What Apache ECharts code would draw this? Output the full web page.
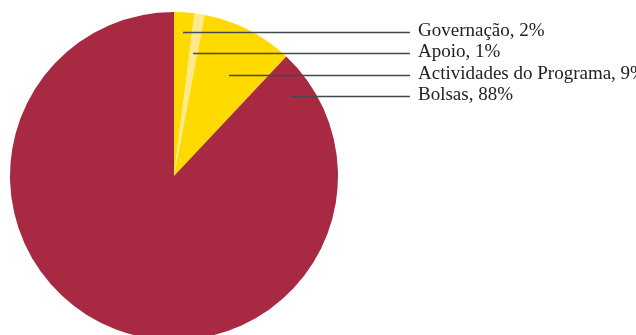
<!DOCTYPE html>
<html><head><meta charset="utf-8">
<script src="https://cdn.jsdelivr.net/npm/echarts@6/dist/echarts.min.js"></script>
<style>html,body{margin:0;padding:0;background:#fff}#c{width:636px;height:335px}</style>
</head><body><div id="c"></div>
<script>
var categories = ['Governação', 'Apoio', 'Actividades do Programa', 'Bolsas'];
var values = [2, 1, 9, 88];
var colors = ['#FFDA00', '#FFE98C', '#FFDA00', '#A82A42'];
// layout only
var lineStartX = [183, 193, 229, 291];
var lineY = [32, 53, 75, 96];

var base = {
  type: 'pie',
  center: [174, 176],
  radius: [0, 164],
  startAngle: 90,
  clockwise: true,
  avoidLabelOverlap: false,
  emphasis: { disabled: true },
  silent: true
};

var chart = echarts.init(document.getElementById('c'));
chart.setOption({
  animation: false,
  series: [
    Object.assign({}, base, {
      z: 1,
      data: categories.map(function (n, i) {
        return { name: n, value: values[i], itemStyle: { color: colors[i] } };
      }),
      label: { show: false },
      labelLine: { show: false }
    }),
    Object.assign({}, base, {
      z: 5,
      data: categories.map(function (n, i) {
        return { name: n, value: values[i], itemStyle: { color: 'rgba(0,0,0,0)' } };
      }),
      label: {
        show: true,
        position: 'outside',
        formatter: function (p) { return p.name + ', ' + p.value + '%'; },
        fontFamily: 'Liberation Serif',
        fontSize: 19,
        color: '#222'
      },
      labelLine: { show: true, lineStyle: { color: '#3f4b4e', width: 1.3 } },
      labelLayout: function (p) {
        var i = p.dataIndex;
        var y = lineY[i] + 0.5;
        return {
          x: 418, y: y - 1.5, align: 'left', verticalAlign: 'middle',
          labelLinePoints: [[lineStartX[i], y], [410, y], [410, y]]
        };
      }
    })
  ]
});
</script></body></html>
